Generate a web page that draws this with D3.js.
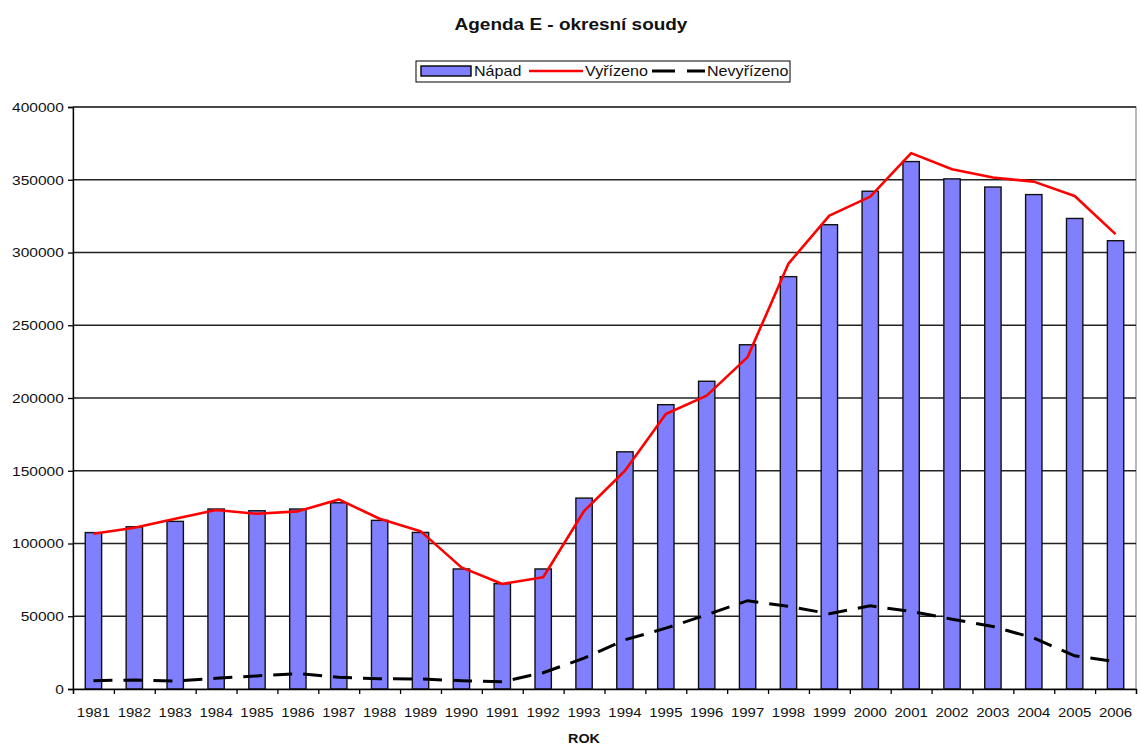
<!DOCTYPE html>
<html>
<head>
<meta charset="utf-8">
<script src="https://cdn.jsdelivr.net/npm/d3@7"></script>
<style>
  body { margin: 0; background: #fff; }
  svg { display: block; font-family: "Liberation Sans", Arial, sans-serif; }
</style>
</head>
<body>
<div id="chart"></div>
<script>
const years = d3.range(1981, 2007).map(String)
const napad = [107500, 111500, 115200, 123700, 122500, 123700, 128000, 115900, 107600, 82500, 72400, 82500, 131200,
               163000, 195400, 211500, 236600, 283400, 319100, 342100, 362500, 350600, 345000, 339800, 323400, 308100]
const vyrizeno = [106700, 110800, 117000, 123000, 120400, 122100, 130300, 117000, 108500, 83600, 72200, 76800, 122300,
                  150000, 189000, 201600, 228100, 292400, 325300, 338400, 368300, 357200, 351500, 348700, 338800, 312600]
const nevyrizeno = [5700, 6200, 5500, 7400, 9000, 10600, 8000, 7100, 6900, 5700, 5000, 11200, 21200,
                    33800, 41800, 51000, 60700, 56800, 51700, 57200, 53300, 48000, 43000, 35000, 22800, 18800]
const yTicks = d3.range(0, 400001, 50000)
const seriesNames = ["Nápad", "Vyřízeno", "Nevyřízeno"]

const width = 1140
const height = 747
const plotLeft = 73, plotRight = 1136, plotTop = 107, plotBottom = 689
const stretch = "scale(1.15,1)"

const svg = d3.select("#chart")
              .append("svg")
              .attr("width", width)
              .attr("height", height)

svg.append("rect").attr("width", width).attr("height", height).attr("fill", "white")

const x = d3.scaleBand()
            .domain(years)
            .range([plotLeft, plotRight])
            .padding(0)

const xIdx = d3.scaleLinear()
               .domain([0, years.length])
               .range([plotLeft, plotRight])

const y = d3.scaleLinear()
            .domain([0, 400000])
            .range([plotBottom, plotTop])

// plot area border
svg.append("rect")
   .attr("x", plotLeft).attr("y", plotTop)
   .attr("width", plotRight - plotLeft).attr("height", plotBottom - plotTop)
   .attr("fill", "none").attr("stroke", "#8a8a8a").attr("stroke-width", 1.2)

// gridlines
svg.append("g")
   .selectAll("line")
   .data(yTicks.filter(d => d > 0))
   .enter()
   .append("line")
   .attr("x1", plotLeft).attr("x2", plotRight)
   .attr("y1", d => y(d)).attr("y2", d => y(d))
   .attr("stroke", "#222").attr("stroke-width", 1.3)

// bars
const barW = x.bandwidth() * 0.4
svg.append("g")
   .selectAll("rect")
   .data(years)
   .enter()
   .append("rect")
   .attr("x", d => x(d) + x.bandwidth() / 2 - barW / 2)
   .attr("y", (d, i) => y(napad[i]))
   .attr("width", barW)
   .attr("height", (d, i) => y(0) - y(napad[i]))
   .attr("fill", "#8080ff")
   .attr("stroke", "#111")
   .attr("stroke-width", 1.4)

const line = d3.line()
               .x((d, i) => x(years[i]) + x.bandwidth() / 2)
               .y(d => y(d))

svg.append("path")
   .datum(vyrizeno)
   .attr("d", line)
   .attr("fill", "none")
   .attr("stroke", "#ff0000")
   .attr("stroke-width", 2.6)
   .attr("stroke-linejoin", "round")

svg.append("path")
   .datum(nevyrizeno)
   .attr("d", line)
   .attr("fill", "none")
   .attr("stroke", "#000")
   .attr("stroke-width", 3)
   .attr("stroke-dasharray", "19,11")

// y axis
const yAxis = svg.append("g")
                 .attr("transform", `translate(${plotLeft},0)`)
                 .call(d3.axisLeft(y).tickValues(yTicks).tickSize(5).tickPadding(3).tickFormat(d3.format("d")))
yAxis.select(".domain").attr("stroke", "#000").attr("stroke-width", 1.3)
yAxis.selectAll(".tick line").attr("stroke", "#000").attr("stroke-width", 1.3)
yAxis.selectAll("text")
     .attr("font-size", 13.5).attr("fill", "#111")
     .attr("font-family", "Liberation Sans, Arial, sans-serif")
     .attr("transform", stretch)

// x axis: tick marks at category boundaries, labels at centres
const xTicks = svg.append("g")
                  .attr("transform", `translate(0,${plotBottom})`)
                  .call(d3.axisBottom(xIdx).tickValues(d3.range(0, years.length + 1)).tickSize(5).tickFormat(""))
xTicks.select(".domain").attr("stroke", "#000").attr("stroke-width", 1.3)
xTicks.selectAll(".tick line").attr("stroke", "#000").attr("stroke-width", 1.3)

const xLabels = svg.append("g")
                   .attr("transform", `translate(0,${plotBottom})`)
                   .call(d3.axisBottom(x).tickSize(0).tickPadding(19))
xLabels.select(".domain").remove()
xLabels.selectAll("text")
       .attr("font-size", 13).attr("fill", "#111")
       .attr("font-family", "Liberation Sans, Arial, sans-serif")
       .attr("transform", stretch)

// titles
svg.append("text")
   .attr("transform", `translate(571,30) ${stretch}`)
   .attr("text-anchor", "middle")
   .attr("font-size", 16.5)
   .attr("font-weight", "bold")
   .attr("fill", "#111")
   .text("Agenda E - okresní soudy")

svg.append("text")
   .attr("transform", `translate(584,743) ${stretch}`)
   .attr("text-anchor", "middle")
   .attr("font-size", 12.5)
   .attr("font-weight", "bold")
   .attr("fill", "#111")
   .text("ROK")

// legend
const legend = svg.append("g")
legend.append("rect")
      .attr("x", 416).attr("y", 61).attr("width", 374).attr("height", 21)
      .attr("fill", "white").attr("stroke", "#000").attr("stroke-width", 1)
legend.append("rect")
      .attr("x", 421).attr("y", 66).attr("width", 50).attr("height", 10)
      .attr("fill", "#8080ff").attr("stroke", "#000").attr("stroke-width", 1.4)
legend.append("line")
      .attr("x1", 529).attr("x2", 583).attr("y1", 71).attr("y2", 71)
      .attr("stroke", "#ff0000").attr("stroke-width", 2.6)
legend.append("line")
      .attr("x1", 652).attr("x2", 705).attr("y1", 71).attr("y2", 71)
      .attr("stroke", "#000").attr("stroke-width", 3).attr("stroke-dasharray", "23,12")

legend.selectAll("text.item")
      .data(seriesNames)
      .enter()
      .append("text")
      .attr("class", "item")
      .attr("transform", (d, i) => `translate(${[474, 585, 707][i]},76) ${stretch}`)
      .attr("font-size", 14)
      .attr("fill", "#111")
      .text(d => d)
</script>
</body>
</html>
